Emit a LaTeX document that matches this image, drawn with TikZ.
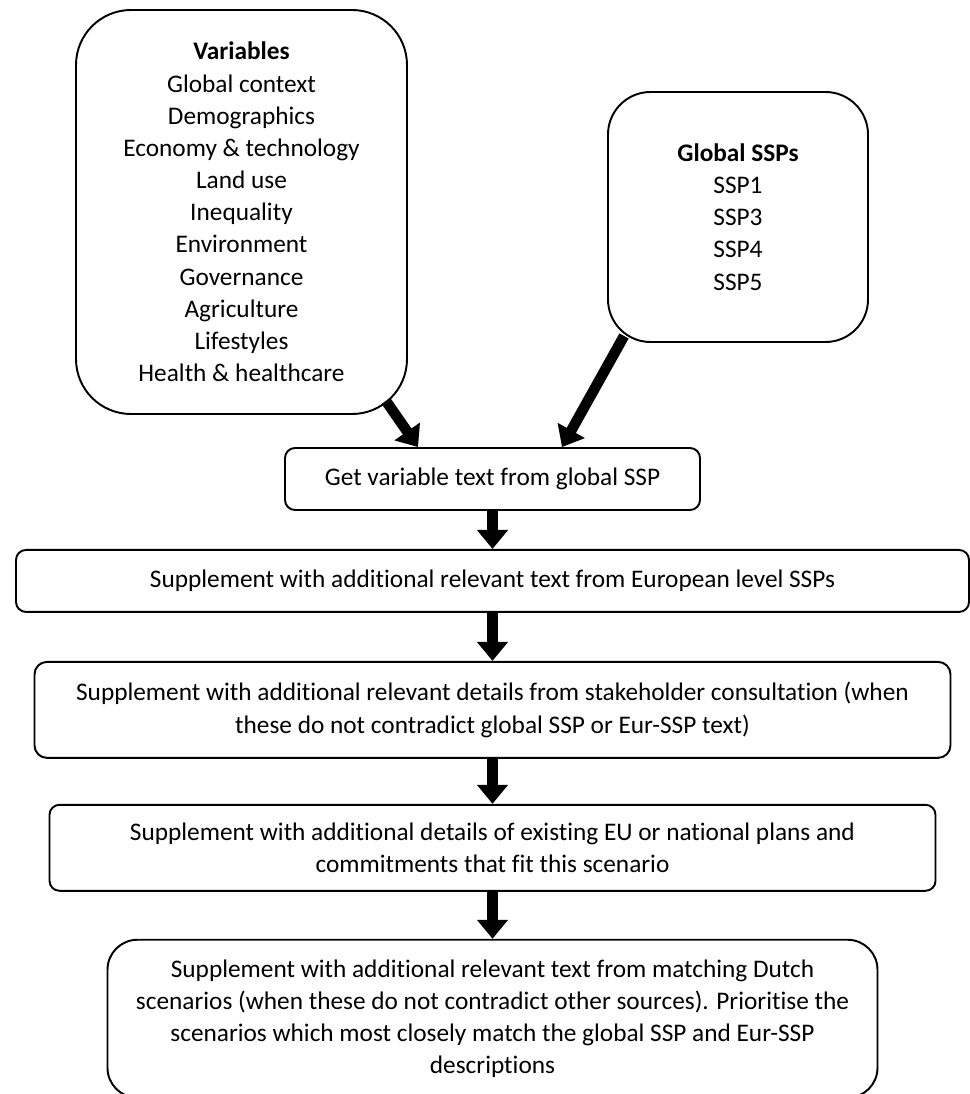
\documentclass[tikz,border=0pt]{standalone}
\usepackage{fontspec}
\setmainfont{Carlito}[Ligatures=NoCommon]
\usetikzlibrary{positioning, arrows.meta}

\begin{document}
\begin{tikzpicture}[
        box/.style={draw, line width=1.1pt, align=center, inner sep=0pt, font=\fontsize{14.4}{18.3}\selectfont},
        listbox/.style={box, rounded corners=1.1cm},
        stepbox/.style={box, rounded corners=0.2cm},
        arrow/.style={-{Triangle[length=0.38cm, width=0.6cm]}, line width=6pt},
        node distance=0.8cm
    ]
    \useasboundingbox (0,0) rectangle (19.4,-21.88);

    % Inputs
    \node[listbox, minimum width=6.62cm, minimum height=8.08cm] (vars) at (4.83,-4.24)
        {\textbf{Variables}\\Global context\\Demographics\\Economy \& technology\\Land use\\Inequality\\Environment\\Governance\\Agriculture\\Lifestyles\\Health \& healthcare};
    \node[listbox, rounded corners=0.85cm, minimum width=5.2cm, minimum height=5cm] (global) at (14.76,-4.34)
        {\textbf{Global SSPs}\\SSP1\\SSP3\\SSP4\\SSP5};

    % Steps
    \node[stepbox, minimum width=8.3cm, minimum height=1.24cm] (getvar) at (9.85,-9.58)
        {Get variable text from global SSP};
    \node[stepbox, below=0.76cm of getvar, minimum width=19.06cm, minimum height=1.24cm] (europe)
        {Supplement with additional relevant text from European level SSPs};
    \node[stepbox, below=0.96cm of europe, rounded corners=0.25cm, minimum width=18.32cm, minimum height=1.92cm] (stakeholder)
        {Supplement with additional relevant details from stakeholder consultation (when\\these do not contradict global SSP or Eur-SSP text)};
    \node[stepbox, below=0.9cm of stakeholder, minimum width=17.72cm, minimum height=1.72cm] (plans)
        {Supplement with additional details of existing EU or national plans and\\commitments that fit this scenario};
    \node[stepbox, below=0.94cm of plans, rounded corners=0.6cm, minimum width=15.4cm, minimum height=3.16cm] (dutch)
        {Supplement with additional relevant text from matching Dutch\\scenarios (when these do not contradict other sources). Prioritise the\\scenarios which most closely match the global SSP and Eur-SSP\\descriptions};

    % Arrows into first step
    \draw[arrow] ([shift={(-0.44,0.28)}]vars.south east) -- ([xshift=-1.49cm]getvar.north);
    \draw[arrow] ([shift={(0.34,0.14)}]global.south west) -- ([xshift=1.39cm]getvar.north);

    % Arrows down the chain
    \draw[arrow] (getvar) -- (europe);
    \draw[arrow] (europe) -- (stakeholder);
    \draw[arrow] (stakeholder) -- (plans);
    \draw[arrow] (plans) -- (dutch);

\end{tikzpicture}
\end{document}
